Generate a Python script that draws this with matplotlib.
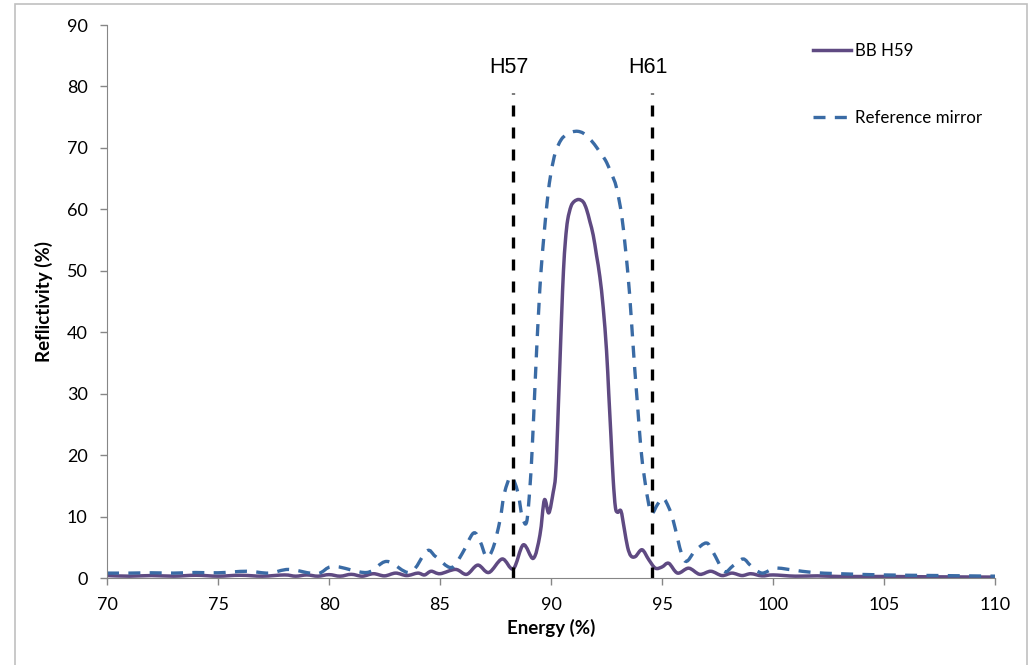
import matplotlib
matplotlib.use('Agg')
import matplotlib.pyplot as plt
from matplotlib.patches import Rectangle, PathPatch
from matplotlib.path import Path
from matplotlib.lines import Line2D

# BB H59 multilayer (solid purple)
energy_bb = [70.0, 71.0, 72.0, 73.0, 74.0, 75.0, 76.0, 77.0, 78.0, 78.5, 79.0, 79.5,
             80.0, 80.5, 81.0, 81.5, 82.0, 82.5, 83.0, 83.5, 84.0, 84.3, 84.6, 85.0,
             85.7, 86.2, 86.7, 87.2, 87.8, 88.3, 88.75, 89.2, 89.5, 89.7, 89.9, 90.1,
             90.2, 90.27, 90.33, 90.4, 90.48, 90.56, 90.65, 90.75, 90.9, 91.05, 91.25,
             91.45, 91.6, 91.75, 91.9, 92.05, 92.2, 92.35, 92.5, 92.6, 92.7, 92.8, 92.9,
             93.0, 93.15, 93.3, 93.45, 93.6, 93.8, 94.1, 94.4,
             94.7, 95.0, 95.3, 95.7, 96.2, 96.7, 97.2, 97.7, 98.15, 98.6, 99.0, 99.5,
             100.0, 101.0, 102.0, 103.0, 105.0, 107.0, 110.0]
refl_bb = [0.4, 0.3, 0.4, 0.3, 0.45, 0.3, 0.45, 0.3, 0.5, 0.3, 0.5, 0.3,
           0.55, 0.3, 0.6, 0.3, 0.7, 0.35, 0.8, 0.4, 0.8, 0.5, 1.1, 0.7,
           1.4, 0.6, 2.1, 0.9, 3.1, 1.5, 5.4, 3.2, 7.0, 12.7, 10.6, 14.0,
           16.5, 22.0, 28.0, 35.0, 43.0, 50.0, 55.0, 58.3, 60.5, 61.3, 61.6,
           61.2, 60.0, 58.0, 55.8, 52.5, 49.0, 44.0, 37.0, 30.0, 23.0, 16.0, 11.5,
           10.7, 10.9, 8.0, 5.0, 3.6, 3.5, 4.6, 3.0,
           1.6, 1.8, 2.4, 0.8, 1.6, 0.6, 1.1, 0.4, 0.8, 0.4, 0.7, 0.35,
           0.5, 0.3, 0.35, 0.25, 0.25, 0.2, 0.15]

# reference mirror (dashed blue)
energy_ref = [70.0, 71.0, 72.0, 73.0, 74.0, 75.0, 76.3, 77.3, 78.2, 79.45, 80.2, 81.7,
              82.6, 83.65, 84.4, 84.8, 85.5, 86.0, 86.5, 86.8, 87.1, 87.4, 87.7, 87.9,
              88.2, 88.5, 88.7, 88.9, 89.05, 89.15, 89.25, 89.35, 89.45, 89.55, 89.7,
              89.85, 90.0, 90.2, 90.45, 90.7, 90.95, 91.2, 91.45, 91.7, 91.95, 92.2,
              92.45, 92.7, 92.95, 93.2, 93.45, 93.6, 93.75, 93.9, 94.05, 94.2, 94.4,
              94.55, 94.8, 95.05, 95.3, 95.5, 96.0, 96.5, 97.0, 97.3, 97.8, 98.2, 98.65,
              99.0, 99.5, 100.1, 100.9, 101.8, 103.0, 105.0, 107.5, 110.0]
refl_ref = [0.8, 0.8, 0.85, 0.8, 0.9, 0.85, 1.1, 0.8, 1.4, 0.7, 1.9, 0.9,
            2.7, 0.9, 4.4, 3.5, 1.7, 4.0, 7.3, 6.0, 3.4, 5.0, 9.4, 13.8,
            16.5, 14.0, 10.0, 9.1, 14.8, 21.0, 29.0, 37.0, 44.0, 50.0, 56.5,
            62.0, 66.0, 69.3, 71.3, 72.2, 72.6, 72.7, 72.4, 71.6, 70.6, 69.3,
            68.0, 66.0, 63.5, 58.5, 50.0, 43.0, 35.0, 28.0, 21.0, 16.5, 12.0,
            10.5, 12.0, 13.0, 11.5, 9.4, 2.9, 4.5, 5.7, 4.2, 1.1, 2.0, 3.1,
            2.0, 0.8, 1.6, 1.3, 0.9, 0.7, 0.5, 0.4, 0.3]

# harmonic markers
harm_names = ['H57', 'H61']
harm_pos = [88.3, 94.55]
harm_top = 79.0

xticks = [70, 75, 80, 85, 90, 95, 100, 105, 110]
yticks = [0, 10, 20, 30, 40, 50, 60, 70, 80, 90]


def smooth_path(x, y):
    # excel style smoothed line: cubic bezier through every point
    pts = list(zip(x, y))
    verts = [pts[0]]
    codes = [Path.MOVETO]
    n = len(pts)
    for i in range(n - 1):
        p0 = pts[i - 1] if i > 0 else pts[i]
        p1 = pts[i]
        p2 = pts[i + 1]
        p3 = pts[i + 2] if i + 2 < n else pts[i + 1]
        c1 = (p1[0] + (p2[0] - p0[0]) / 6, p1[1] + (p2[1] - p0[1]) / 6)
        c2 = (p2[0] - (p3[0] - p1[0]) / 6, p2[1] - (p3[1] - p1[1]) / 6)
        verts += [c1, c2, p2]
        codes += [Path.CURVE4] * 3
    return Path(verts, codes)


fig = plt.figure(figsize=(10.35, 6.65), dpi=100)
ax = fig.add_axes([0.1034, 0.1308, 0.858, 0.8316])

# outer chart border
fig.patches.append(Rectangle((15 / 1035, -0.01), 1012 / 1035, 1 - 4 / 665 + 0.01,
                             transform=fig.transFigure, fill=False,
                             edgecolor='#c0c0c0', linewidth=1.2))

bb_color = '#5f4a82'
ref_color = '#3a6ba5'
ref_dash = (0, (3.6, 2.8))

ax.add_patch(PathPatch(smooth_path(energy_bb, refl_bb), fill=False,
                       edgecolor=bb_color, lw=2.5, joinstyle='round', capstyle='round'))
ax.add_patch(PathPatch(smooth_path(energy_ref, refl_ref), fill=False,
                       edgecolor=ref_color, lw=2.4, ls=ref_dash))

for name, pos in zip(harm_names, harm_pos):
    ax.plot([pos, pos], [0, harm_top], color='black', lw=2.4, ls=(0, (3.3, 3.3)))
    ax.text(pos - 0.2, 81.3, name, ha='center', va='bottom', fontsize=15.5,
            family='Liberation Sans')

ax.set_xlim(70, 110)
ax.set_ylim(0, 90)
ax.set_xticks(xticks)
ax.set_yticks(yticks)

ax.spines['top'].set_color('none')
ax.spines['right'].set_color('none')
ax.spines['bottom'].set_color('#868686')
ax.spines['left'].set_color('#868686')
ax.tick_params(axis='both', colors='#868686', length=5, width=1, labelcolor='black',
               labelsize=13, labelfontfamily='Lato')
ax.tick_params(axis='x', pad=9)
ax.tick_params(axis='y', pad=9)

ax.set_xlabel('Energy (%)', fontsize=13.5, fontweight='bold', family='Lato', labelpad=4)
ax.set_ylabel('Reflictivity (%)', fontsize=13.5, fontweight='bold', family='Lato', labelpad=10)

handles = [Line2D([], [], color=bb_color, lw=2.5),
           Line2D([], [], color=ref_color, lw=2.4, ls=ref_dash)]
labels = ['BB H59', 'Reference mirror']
ax.legend(handles, labels, loc='upper left', bbox_to_anchor=(798 / 1035, 1 - 28 / 665),
          bbox_transform=fig.transFigure, frameon=False,
          handlelength=2.2, labelspacing=3.0, handletextpad=0.25,
          prop={'family': 'Lato', 'size': 12.2})

plt.savefig('out.png', dpi=100)
